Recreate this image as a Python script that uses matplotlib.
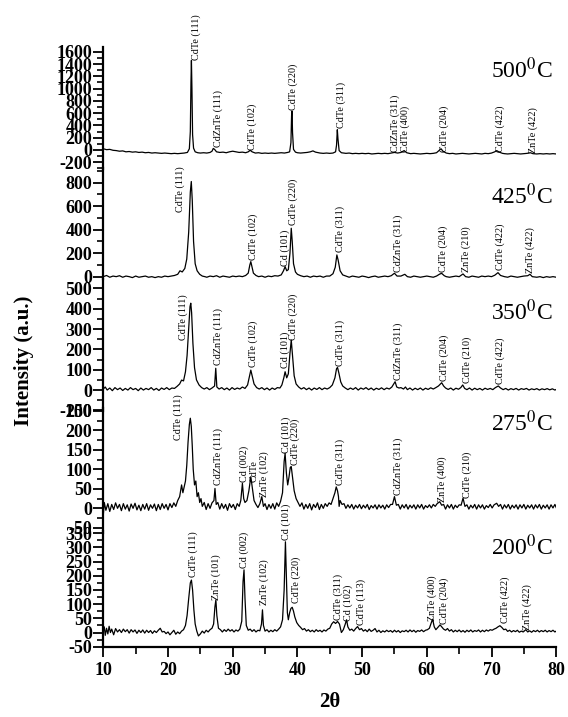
import matplotlib
matplotlib.use("Agg")
import matplotlib.pyplot as plt
from matplotlib.ticker import MultipleLocator

plt.rcParams['font.family'] = ['Liberation Serif', 'DejaVu Serif']
plt.rcParams['mathtext.fontset'] = 'stix'
plt.rcParams['axes.unicode_minus'] = False

# ---- XRD traces: (2theta, intensity) ----
trace_500 = [
    (10.0, 20), (10.5, 5), (11.0, 10), (11.5, -5), (12.0, -10), (12.5, -20), (13.0, -15), (13.5, -30),
    (14.0, -25), (14.5, -35), (15.0, -30), (15.5, -40), (16.0, -35), (16.5, -45), (17.0, -40), (17.5, -50),
    (18.0, -45), (18.5, -50), (19.0, -55), (19.5, -50), (20.0, -55), (20.5, -60), (21.0, -55), (21.5, -60),
    (22.0, -55), (22.5, -50), (23.0, -40), (23.3, 20), (23.45, 300), (23.55, 1100), (23.62, 1460),
    (23.7, 1000), (23.8, 250), (23.95, 30), (24.2, -30), (24.6, -45), (25.0, -50), (25.5, -45), (26.0, -50),
    (26.5, -40), (26.8, -20), (27.0, 25), (27.2, 10), (27.5, -30), (28.0, -40), (28.5, -35), (29.0, -45),
    (29.5, -30), (30.0, -20), (30.5, -30), (31.0, -40), (31.5, -35), (32.0, -45), (32.4, -30), (32.7, -5),
    (33.0, -30), (33.5, -50), (34.0, -45), (34.5, -55), (35.0, -50), (35.5, -55), (36.0, -50), (36.5, -55),
    (37.0, -50), (37.5, -45), (38.0, -50), (38.5, -40), (38.8, -30), (39.0, 120), (39.1, 560), (39.17, 630),
    (39.25, 280), (39.4, 10), (39.7, -35), (40.0, -45), (40.5, -50), (41.0, -45), (41.5, -40), (42.0, -30),
    (42.4, -15), (42.8, -35), (43.5, -50), (44.0, -55), (44.5, -50), (45.0, -55), (45.5, -50), (45.9, -30),
    (46.05, 80), (46.17, 330), (46.27, 180), (46.45, -10), (46.8, -45), (47.5, -55), (48.0, -50), (48.5, -60),
    (49.0, -55), (49.5, -60), (50.0, -55), (50.5, -60), (51.0, -55), (51.5, -65), (52.0, -60), (52.5, -55),
    (53.0, -60), (53.5, -55), (54.0, -60), (54.5, -50), (55.0, -40), (55.5, -50), (56.0, -40), (56.5, -10),
    (56.9, -45), (57.5, -60), (58.0, -55), (58.5, -60), (59.0, -65), (59.5, -60), (60.0, -55), (60.5, -60),
    (61.0, -55), (61.5, -45), (62.0, 0), (62.2, 20), (62.5, -20), (63.0, -50), (63.5, -60), (64.0, -55),
    (64.5, -65), (65.0, -60), (65.5, -55), (66.0, -60), (66.5, -65), (67.0, -60), (67.5, -55), (68.0, -60),
    (68.5, -65), (69.0, -55), (69.5, -60), (70.0, -50), (70.5, -30), (70.8, -10), (71.2, -35), (71.7, -55),
    (72.0, -60), (72.5, -65), (73.0, -60), (73.5, -55), (74.0, -60), (74.5, -65), (75.0, -60), (75.5, -55),
    (76.0, -45), (76.4, -60), (77.0, -65), (77.5, -60), (78.0, -65), (78.5, -60), (79.0, -65), (79.5, -60),
    (80.0, -65),
]

trace_425 = [
    (10.0, 0), (10.5, 10), (11.0, -5), (11.5, 5), (12.0, 0), (12.5, 8), (13.0, -5), (13.5, 5), (14.0, 0),
    (14.5, -8), (15.0, 5), (15.5, -5), (16.0, 0), (16.5, 5), (17.0, -5), (17.5, 0), (18.0, -8), (18.5, 0),
    (19.0, -5), (19.5, 5), (20.0, 0), (20.5, 5), (21.0, 10), (21.5, 20), (21.85, 50), (22.2, 40), (22.6, 70),
    (22.9, 150), (23.2, 380), (23.45, 720), (23.6, 810), (23.75, 650), (23.95, 300), (24.2, 110), (24.5, 50),
    (24.9, 20), (25.3, 5), (25.7, 0), (26.0, -5), (26.5, 5), (27.0, 0), (27.5, 8), (28.0, -5), (28.5, 5),
    (29.0, 0), (29.5, -5), (30.0, 5), (30.5, 0), (31.0, 5), (31.5, 0), (32.0, 10), (32.4, 30), (32.65, 100),
    (32.8, 128), (32.95, 90), (33.2, 30), (33.6, 10), (34.0, 0), (34.5, 5), (35.0, -5), (35.5, 5), (36.0, 0),
    (36.5, 8), (37.0, 5), (37.5, 15), (37.85, 50), (38.1, 85), (38.35, 50), (38.6, 60), (38.85, 200),
    (39.05, 412), (39.2, 300), (39.4, 110), (39.7, 40), (40.0, 20), (40.5, 8), (41.0, 0), (41.5, 5), (42.0, -5),
    (42.5, 5), (43.0, 0), (43.5, 5), (44.0, -5), (44.5, 5), (45.0, 5), (45.5, 25), (45.85, 80), (46.1, 185),
    (46.3, 140), (46.6, 50), (47.0, 15), (47.5, 5), (48.0, -5), (48.5, 5), (49.0, 0), (49.5, -5), (50.0, 5),
    (50.5, 0), (51.0, -8), (51.5, 0), (52.0, 5), (52.5, -5), (53.0, 0), (53.5, 5), (54.0, 0), (54.5, 8),
    (55.0, 29), (55.4, 5), (56.0, 5), (56.6, 20), (57.0, 0), (57.5, -5), (58.0, 5), (58.5, 0), (59.0, -5),
    (59.5, 0), (60.0, 5), (60.5, 0), (61.0, -5), (61.5, 5), (62.0, 22), (62.3, 28), (62.7, 8), (63.0, 0),
    (63.5, -5), (64.0, 0), (64.5, 5), (65.0, 0), (65.6, 23), (66.0, 0), (66.5, -5), (67.0, 5), (67.5, 0),
    (68.0, -5), (68.5, 5), (69.0, 0), (69.5, 5), (70.0, 0), (70.5, 12), (71.0, 34), (71.4, 10), (72.0, 0),
    (72.5, -5), (73.0, 5), (73.5, 0), (74.0, -5), (74.5, 0), (75.0, 5), (75.6, 8), (75.95, 20), (76.3, 0),
    (77.0, -5), (77.5, 0), (78.0, -8), (78.5, 0), (79.0, -5), (79.5, 0), (80.0, -5),
]

trace_350 = [
    (10.0, 5), (10.3, 15), (10.6, 0), (11.0, 10), (11.4, -3), (11.8, 12), (12.2, 2), (12.6, 10), (13.0, -2),
    (13.4, 8), (13.8, 0), (14.2, 12), (14.6, 2), (15.0, 8), (15.4, -3), (15.8, 10), (16.2, 0), (16.6, 8),
    (17.0, 2), (17.4, 12), (17.8, 0), (18.2, 8), (18.6, -2), (19.0, 10), (19.4, 3), (19.8, 12), (20.2, 2),
    (20.6, 10), (21.0, 8), (21.4, 18), (21.8, 30), (22.1, 49), (22.4, 45), (22.7, 90), (22.95, 170),
    (23.2, 300), (23.4, 410), (23.52, 427), (23.65, 380), (23.85, 230), (24.1, 110), (24.4, 50), (24.8, 25),
    (25.2, 12), (25.6, 5), (26.0, 12), (26.4, 2), (26.8, 10), (27.2, 20), (27.38, 107), (27.55, 15),
    (27.9, 5), (28.3, 12), (28.7, 2), (29.1, 10), (29.5, 0), (29.9, 12), (30.3, 3), (30.7, 10), (31.1, 5),
    (31.5, 15), (31.9, 8), (32.3, 25), (32.6, 70), (32.8, 98), (33.0, 70), (33.3, 30), (33.7, 12), (34.1, 5),
    (34.5, 12), (34.9, 2), (35.3, 10), (35.7, 0), (36.1, 10), (36.5, 3), (36.9, 12), (37.3, 10), (37.6, 25),
    (37.9, 60), (38.1, 90), (38.35, 60), (38.6, 80), (38.85, 180), (39.05, 246), (39.25, 170), (39.5, 70),
    (39.8, 30), (40.2, 15), (40.6, 5), (41.0, 12), (41.4, 2), (41.8, 10), (42.2, 0), (42.6, 10), (43.0, 3),
    (43.4, 12), (43.8, 2), (44.2, 10), (44.6, 5), (45.0, 12), (45.4, 25), (45.8, 60), (46.05, 105),
    (46.2, 111), (46.4, 85), (46.7, 40), (47.0, 20), (47.4, 10), (47.8, 2), (48.2, 10), (48.6, 3), (49.0, 12),
    (49.4, 0), (49.8, 10), (50.2, 4), (50.6, 12), (51.0, 2), (51.4, 10), (51.8, 0), (52.2, 9), (52.6, 3),
    (53.0, 11), (53.4, 2), (53.8, 10), (54.2, 5), (54.6, 15), (54.9, 30), (55.1, 41), (55.35, 15), (55.7, 10),
    (56.0, 12), (56.4, 5), (56.7, 15), (57.0, 2), (57.4, 10), (57.8, 0), (58.2, 9), (58.6, 2), (59.0, 10),
    (59.4, 0), (59.8, 9), (60.2, 3), (60.6, 11), (61.0, 5), (61.4, 12), (61.8, 20), (62.1, 30), (62.3, 36),
    (62.6, 20), (62.9, 10), (63.3, 3), (63.7, 10), (64.1, 0), (64.5, 9), (64.9, 4), (65.25, 12), (65.55, 25),
    (65.85, 8), (66.2, 2), (66.6, 10), (67.0, 0), (67.4, 9), (67.8, 2), (68.2, 8), (68.6, 0), (69.0, 9),
    (69.4, 3), (69.8, 8), (70.2, 2), (70.6, 12), (71.05, 20), (71.4, 10), (71.8, 2), (72.2, 8), (72.6, 0),
    (73.0, 7), (73.4, 2), (73.8, 8), (74.2, 0), (74.6, 7), (75.0, 3), (75.4, 8), (75.8, 0), (76.2, 6),
    (76.6, 2), (77.0, 7), (77.4, 0), (77.8, 6), (78.2, 2), (78.6, 7), (79.0, 1), (79.4, 6), (79.8, 0),
    (80.0, 3),
]

trace_275 = [
    (10.0, -17), (10.15, 15), (10.4, -5), (10.7, 12), (11.0, -8), (11.3, 10), (11.6, -3), (11.9, 14),
    (12.2, 0), (12.5, 10), (12.8, -6), (13.1, 12), (13.4, -2), (13.7, 9), (14.0, -7), (14.3, 11), (14.6, 0),
    (14.9, 13), (15.2, -4), (15.5, 8), (15.8, -6), (16.1, 10), (16.4, -2), (16.7, 12), (17.0, -5), (17.3, 9),
    (17.6, 0), (17.9, 11), (18.2, -6), (18.5, 10), (18.8, -3), (19.1, 12), (19.4, 0), (19.7, 10), (20.0, -4),
    (20.3, 12), (20.6, 2), (20.9, 14), (21.2, 5), (21.5, 20), (21.8, 30), (22.1, 60), (22.3, 40), (22.5, 55),
    (22.7, 70), (22.9, 110), (23.1, 170), (23.3, 215), (23.45, 231), (23.6, 210), (23.75, 160), (23.9, 100),
    (24.1, 60), (24.3, 70), (24.5, 30), (24.7, 40), (24.9, 15), (25.1, 25), (25.3, 5), (25.6, 15), (25.9, -3),
    (26.2, 12), (26.5, 0), (26.8, 14), (27.1, 20), (27.26, 51), (27.45, 10), (27.7, 15), (28.0, -2),
    (28.3, 12), (28.6, 0), (28.9, 10), (29.2, -5), (29.5, 12), (29.8, 2), (30.1, 10), (30.4, -3), (30.7, 12),
    (31.0, 5), (31.25, 20), (31.5, 64), (31.7, 25), (31.9, 15), (32.2, 20), (32.5, 45), (32.8, 81),
    (33.05, 50), (33.3, 20), (33.6, 10), (33.9, 2), (34.2, 12), (34.5, 30), (34.75, 5), (35.0, 12),
    (35.3, -3), (35.6, 10), (35.9, 0), (36.2, 12), (36.5, -2), (36.8, 14), (37.1, 5), (37.4, 18), (37.7, 40),
    (37.95, 120), (38.1, 141), (38.3, 90), (38.5, 60), (38.7, 80), (38.9, 105), (39.05, 107), (39.25, 80),
    (39.5, 45), (39.8, 25), (40.1, 15), (40.4, 5), (40.7, 14), (41.0, -2), (41.3, 10), (41.6, 0), (41.9, 12),
    (42.2, -4), (42.5, 10), (42.8, 2), (43.1, 14), (43.4, -3), (43.7, 10), (44.0, 0), (44.3, 12), (44.6, 5),
    (44.9, 14), (45.2, 10), (45.5, 25), (45.8, 40), (46.0, 55), (46.2, 45), (46.35, 30), (46.45, 5),
    (46.6, 20), (46.9, 10), (47.2, 12), (47.5, 0), (47.8, 9), (48.1, 1), (48.4, 10), (48.7, -2), (49.0, 8),
    (49.3, 1), (49.6, 10), (49.9, -1), (50.2, 8), (50.5, 1), (50.8, 10), (51.1, -3), (51.4, 7), (51.7, 1),
    (52.0, 9), (52.3, -2), (52.6, 9), (52.9, 1), (53.2, 8), (53.5, -2), (53.8, 9), (54.1, 2), (54.4, 10),
    (54.7, 10), (55.0, 30), (55.3, 8), (55.6, 10), (55.9, -2), (56.2, 9), (56.5, 1), (56.8, 10), (57.1, -2),
    (57.4, 8), (57.7, 1), (58.0, 9), (58.3, -2), (58.6, 9), (58.9, 1), (59.2, 10), (59.5, -2), (59.8, 7),
    (60.1, 2), (60.4, 9), (60.7, 1), (61.0, 10), (61.3, 5), (61.6, 12), (62.0, 17), (62.3, 8), (62.6, 10),
    (62.9, -2), (63.2, 9), (63.5, 1), (63.8, 10), (64.1, -2), (64.4, 8), (64.7, 2), (65.0, 9), (65.3, 8),
    (65.6, 26), (65.9, 5), (66.2, 9), (66.5, -2), (66.8, 8), (67.1, 1), (67.4, 10), (67.7, -2), (68.0, 9),
    (68.3, 1), (68.6, 9), (68.9, -2), (69.2, 7), (69.5, 2), (69.8, 10), (70.1, 1), (70.4, 9), (70.8, 13),
    (71.1, 5), (71.4, 10), (71.7, -2), (72.0, 9), (72.3, 1), (72.6, 10), (72.9, -2), (73.2, 8), (73.5, 1),
    (73.8, 9), (74.1, -2), (74.4, 9), (74.7, 1), (75.0, 10), (75.3, -2), (75.6, 8), (75.9, 1), (76.2, 9),
    (76.5, -2), (76.8, 9), (77.1, 1), (77.4, 10), (77.7, -2), (78.0, 8), (78.3, 1), (78.6, 9), (78.9, -2),
    (79.2, 9), (79.5, 1), (79.8, 10), (80.0, 2),
]

trace_200 = [
    (10.0, 5), (10.15, 20), (10.3, -10), (10.5, 15), (10.7, -5), (10.9, 22), (11.1, 0), (11.3, 12),
    (11.6, -8), (11.9, 14), (12.2, 2), (12.5, 10), (12.8, 0), (13.1, 12), (13.4, 3), (13.7, 10), (14.0, -2),
    (14.3, 10), (14.6, 2), (14.9, 9), (15.2, -3), (15.5, 8), (15.8, 0), (16.1, 9), (16.4, -2), (16.7, 8),
    (17.0, 0), (17.3, 7), (17.6, -3), (17.9, 6), (18.2, 0), (18.5, 8), (18.8, 15), (19.1, 2), (19.4, 4),
    (19.7, -4), (20.0, 2), (20.3, -8), (20.6, 0), (20.9, 8), (21.2, -6), (21.5, 2), (21.8, -4), (22.1, 5),
    (22.4, 10), (22.7, 25), (22.95, 60), (23.2, 120), (23.45, 175), (23.62, 185), (23.8, 150), (24.0, 80),
    (24.2, 30), (24.45, 5), (24.7, -12), (25.0, -5), (25.3, 5), (25.6, -2), (25.9, 8), (26.2, 2), (26.5, 10),
    (26.8, 15), (27.05, 30), (27.25, 90), (27.4, 115), (27.55, 60), (27.8, 15), (28.1, 10), (28.4, 2),
    (28.7, 10), (29.0, 4), (29.3, 12), (29.6, 5), (29.9, 10), (30.2, 2), (30.5, 9), (30.8, 5), (31.1, 12),
    (31.4, 40), (31.6, 180), (31.75, 221), (31.9, 120), (32.1, 25), (32.4, 8), (32.7, 12), (33.0, 4),
    (33.3, 10), (33.6, 2), (33.9, 8), (34.2, 6), (34.45, 30), (34.6, 80), (34.75, 25), (35.0, 5), (35.3, 10),
    (35.6, 2), (35.9, 8), (36.2, 3), (36.5, 10), (36.8, 5), (37.1, 12), (37.4, 20), (37.7, 45), (37.95, 150),
    (38.15, 320), (38.3, 200), (38.45, 70), (38.6, 45), (38.8, 70), (39.0, 85), (39.2, 89), (39.4, 75),
    (39.6, 55), (39.9, 35), (40.2, 25), (40.5, 18), (40.8, 10), (41.1, 14), (41.4, 5), (41.7, 10), (42.0, 3),
    (42.3, 8), (42.6, 2), (42.9, 10), (43.2, 4), (43.5, 8), (43.8, 2), (44.1, 9), (44.4, 5), (44.7, 12),
    (45.0, 15), (45.3, 30), (45.6, 38), (45.9, 32), (46.2, 39), (46.5, 30), (46.8, 0), (47.1, 10), (47.4, 30),
    (47.6, 45), (47.8, 20), (48.1, 8), (48.4, 12), (48.7, 5), (49.0, 14), (49.3, 21), (49.6, 10), (49.9, 14),
    (50.2, 5), (50.5, 10), (50.8, 3), (51.1, 12), (51.4, 4), (51.7, 8), (52.0, 14), (52.3, 2), (52.6, 8),
    (52.9, 0), (53.2, 6), (53.5, 2), (53.8, 8), (54.1, 3), (54.4, 7), (54.7, 1), (55.0, 8), (55.3, 2),
    (55.6, 7), (55.9, 0), (56.2, 6), (56.5, 3), (56.8, 8), (57.1, 2), (57.4, 9), (57.7, 3), (58.0, 8),
    (58.3, 1), (58.6, 7), (58.9, 4), (59.2, 9), (59.5, 3), (59.8, 8), (60.1, 10), (60.4, 15), (60.7, 35),
    (60.9, 47), (61.15, 20), (61.4, 10), (61.7, 18), (62.05, 27), (62.3, 20), (62.6, 12), (62.9, 8),
    (63.2, 14), (63.5, 5), (63.8, 10), (64.1, 2), (64.4, 8), (64.7, 3), (65.0, 9), (65.3, 2), (65.6, 7),
    (65.9, 1), (66.2, 8), (66.5, 3), (66.8, 9), (67.1, 2), (67.4, 7), (67.7, 4), (68.0, 9), (68.3, 2),
    (68.6, 8), (68.9, 3), (69.2, 9), (69.5, 5), (69.8, 10), (70.1, 8), (70.4, 12), (70.7, 15), (71.0, 20),
    (71.3, 24), (71.6, 18), (71.9, 10), (72.2, 12), (72.5, 4), (72.8, 8), (73.1, 2), (73.4, 7), (73.7, 3),
    (74.0, 8), (74.3, 1), (74.6, 5), (74.9, 2), (75.3, 10), (75.6, 2), (75.9, 6), (76.2, 1), (76.5, 7),
    (76.8, 3), (77.1, 8), (77.4, 2), (77.7, 7), (78.0, 3), (78.3, 8), (78.6, 2), (78.9, 7), (79.2, 3),
    (79.5, 8), (79.8, 2), (80.0, 5),
]

# ---- peak labels: (text, 2theta at left edge, intensity at bottom) ----
labels_500 = [
    ("CdTe (111)", 23.65, 1466), ("CdZnTe (111)", 27.0, 54), ("CdTe (102)", 32.26, 0),
    ("CdTe (220)", 38.6, 652), ("CdTe (311)", 46.07, 353), ("CdZnTe (311)", 54.3, -27),
    ("CdTe (400)", 55.86, -27), ("CdTe (204)", 61.93, -27), ("CdTe (422)", 70.54, -27),
    ("ZnTe (422)", 75.7, -45),
]
labels_425 = [
    ("CdTe (111)", 21.08, 550), ("CdTe (102)", 32.5, 142), ("Cd (101)", 37.3, 90),
    ("CdTe (220)", 38.55, 440), ("CdTe (311)", 45.8, 213), ("CdZnTe (311)", 54.8, 43),
    ("CdTe (204)", 61.8, 43), ("ZnTe (210)", 65.4, 43), ("CdTe (422)", 70.54, 57),
    ("ZnTe (422)", 75.2, 29),
]
labels_350 = [
    ("CdTe (111)", 21.55, 246), ("CdZnTe (111)", 26.96, 123), ("CdTe (102)", 32.4, 113),
    ("Cd (101)", 37.3, 108), ("CdTe (220)", 38.55, 246), ("CdTe (311)", 45.8, 118),
    ("CdZnTe (311)", 54.8, 49), ("CdTe (204)", 62.0, 44), ("CdTe (210)", 65.5, 34),
    ("CdTe (422)", 70.54, 30),
]
labels_275 = [
    ("CdTe (111)", 20.8, 175), ("CdZnTe (111)", 26.96, 60), ("Cd (002)", 31.1, 68),
    ("CdTe", 32.67, 68), ("ZnTe (102)", 34.2, 30), ("Cd (101)", 37.6, 142),
    ("CdTe (220)", 38.85, 111), ("CdTe (311)", 45.8, 60), ("CdZnTe (311)", 54.8, 34),
    ("ZnTe (400)", 61.6, 17), ("CdTe (210)", 65.5, 26),
]
labels_200 = [
    ("CdTe (111)", 23.1, 196), ("ZnTe (101)", 26.75, 115), ("Cd (002)", 31.1, 227),
    ("ZnTe (102)", 34.1, 97), ("Cd (101)", 37.57, 326), ("CdTe (220)", 39.1, 103),
    ("CdTe (311)", 45.55, 45), ("Cd (102)", 47.1, 39), ("CdTe (113)", 49.06, 27),
    ("ZnTe (400)", 60.08, 39), ("CdTe (204)", 61.93, 31), ("CdTe (422)", 71.3, 33),
    ("ZnTe (422)", 74.76, 10),
]

temps = ["500", "425", "350", "275", "200"]
temp_label_y = [1168, 613, 344, 199, 273]
x_ticks = [10, 20, 30, 40, 50, 60, 70, 80]

traces = [trace_500, trace_425, trace_350, trace_275, trace_200]
labels = [labels_500, labels_425, labels_350, labels_275, labels_200]

# layout: (top px, bottom px), y limits, major/minor y step
W, H = 568, 717
panel_px = [(46.8, 168.7), (168.0, 279.0), (279.0, 411.0), (408.1, 532.9), (531.3, 646.7)]
panel_ylim = [(-305, 1681), (-20, 925), (-103, 546), (-63, 257), (-50, 357)]
panel_steps = [(200, 100), (200, 100), (100, 50), (50, 25), (50, 25)]
left_px, right_px = 103.3, 556.2

fig = plt.figure(figsize=(W / 100, H / 100), dpi=100)

for i in range(5):
    top, bot = panel_px[i]
    ax = fig.add_axes([left_px / W, (H - bot) / H, (right_px - left_px) / W, (bot - top) / H])
    ax.patch.set_alpha(0)
    xs = [p[0] for p in traces[i]]
    ys = [p[1] for p in traces[i]]
    ax.plot(xs, ys, color='black', lw=0.9)
    ax.set_xlim(10, 80)
    ax.set_ylim(*panel_ylim[i])

    major, minor = panel_steps[i]
    ax.yaxis.set_major_locator(MultipleLocator(major))
    ax.yaxis.set_minor_locator(MultipleLocator(minor))
    ax.tick_params(axis='y', which='major', direction='out', length=7, width=1.3,
                   labelsize=13, pad=1)
    ax.tick_params(axis='y', which='minor', direction='out', length=4, width=1.2)
    for t in ax.get_yticklabels():
        t.set_fontweight('bold')

    for s in ['top', 'right']:
        ax.spines[s].set_visible(False)
    ax.spines['left'].set_linewidth(1.6)

    if i < 4:
        ax.spines['bottom'].set_visible(False)
        ax.set_xticks([])
    else:
        ax.spines['bottom'].set_linewidth(1.6)
        ax.set_xticks(x_ticks)
        ax.xaxis.set_minor_locator(MultipleLocator(5))
        ax.tick_params(axis='x', which='major', direction='out', length=7, width=1.3,
                       labelsize=13, pad=4)
        ax.tick_params(axis='x', which='minor', direction='out', length=5, width=1.2)
        for t in ax.get_xticklabels():
            t.set_fontweight('bold')

    for txt, lx, ly in labels[i]:
        ax.text(lx, ly, txt, rotation=90, ha='left', va='bottom', fontsize=7.3)

    ax.text(79.5, temp_label_y[i], temps[i] + r"$^{0}$C", ha='right', va='baseline', fontsize=17)

fig.text(23.5 / W, (H - 361) / H, "Intensity (a.u.)", rotation=90, ha='center', va='center',
         fontsize=15, fontweight='bold')
fig.text(330 / W, (H - 701.7) / H, "2θ", ha='center', va='center', fontsize=15, fontweight='bold')

fig.savefig("out.png", dpi=100)
